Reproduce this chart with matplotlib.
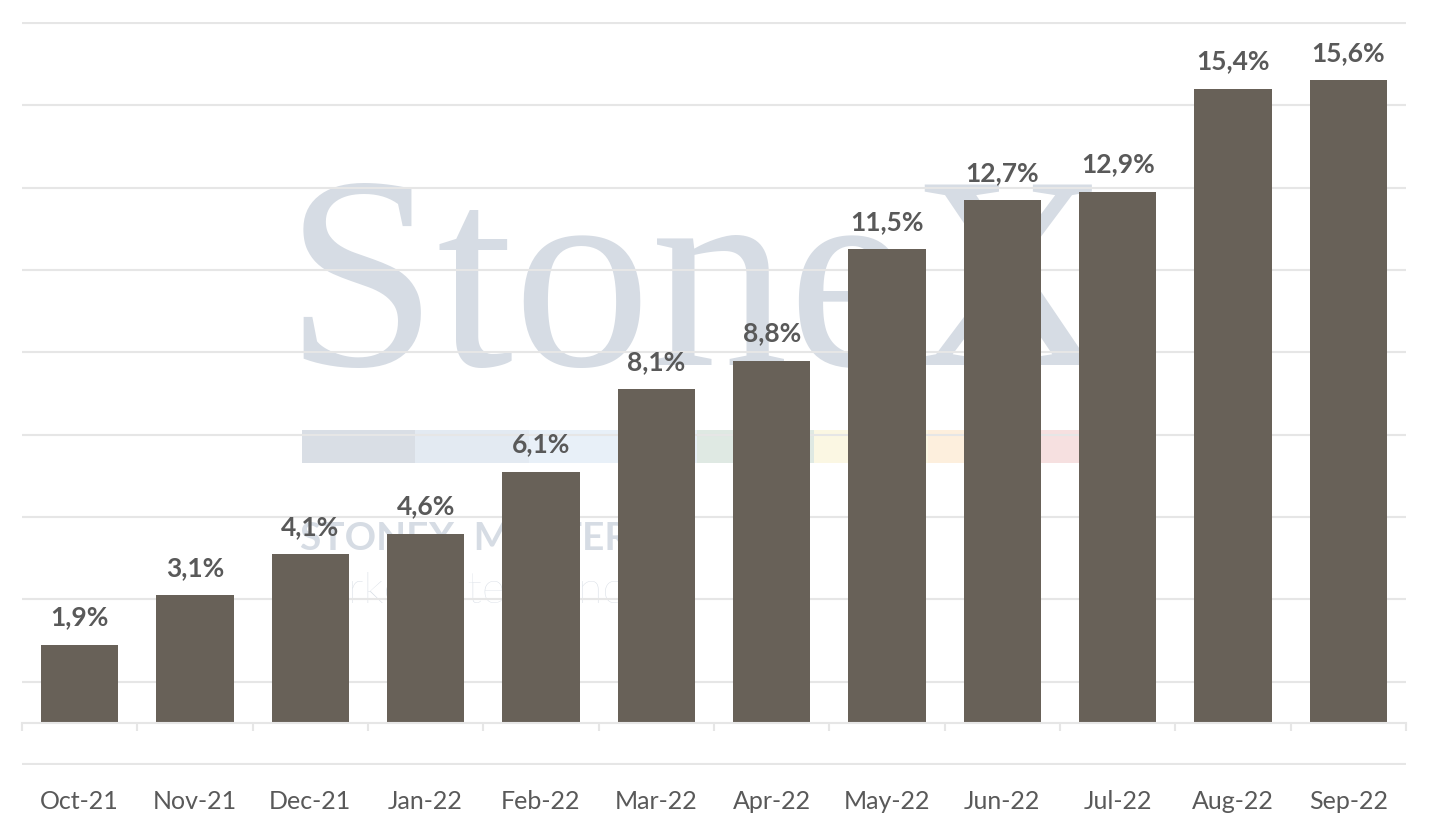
import matplotlib
matplotlib.use("Agg")
import matplotlib.pyplot as plt
from matplotlib.patches import Rectangle

# data
months = ["Oct-21", "Nov-21", "Dec-21", "Jan-22", "Feb-22", "Mar-22",
          "Apr-22", "May-22", "Jun-22", "Jul-22", "Aug-22", "Sep-22"]
values = [1.9, 3.1, 4.1, 4.6, 6.1, 8.1, 8.8, 11.5, 12.7, 12.9, 15.4, 15.6]
grid_levels = [-1, 1, 3, 5, 7, 9, 11, 13, 15, 17]

BAR_COLOR = "#686158"
TEXT_COLOR = "#595959"
GRID_COLOR = "#e6e6e6"
WM_COLOR = "#d6dce4"

plt.rcParams["font.family"] = ["Lato", "DejaVu Sans"]

fig = plt.figure(figsize=(14.29, 8.27), dpi=100)
ax = fig.add_axes([22 / 1429, 62 / 827, 1384 / 1429, 743 / 827])

# watermark (behind grid and bars)
ax.text(0.19, 0.538, "StoneX", transform=ax.transAxes, fontsize=198,
        family="Liberation Serif", color=WM_COLOR, zorder=0.2, va="baseline")
band = [(302, 415, "#d9dee5"), (415, 529, "#e3eaf2"), (529, 697, "#e8f0f8"),
        (697, 814, "#dfe9e3"), (814, 928, "#fbf7e3"), (928, 1039, "#fdefdd"),
        (1039, 1080, "#f6e0e0")]
for x0, x1, c in band:
    ax.add_patch(Rectangle(((x0 - 22) / 1384, (765 - 463) / 743),
                           (x1 - x0) / 1384, 33 / 743, transform=ax.transAxes,
                           color=c, zorder=0.2, lw=0))
ax.text(0.201, 0.289, "STONEX  MASTERS", transform=ax.transAxes,
        fontsize=28, weight="bold", color=WM_COLOR, zorder=0.2, va="baseline")
ax.text(0.195, 0.218, "market intelligence", transform=ax.transAxes,
        fontsize=32, weight="light", color=WM_COLOR,
        zorder=0.2, va="baseline")

x = list(range(len(months)))
bars = ax.bar(x, values, width=0.67, color=BAR_COLOR, zorder=3)
for b, v in zip(bars, values):
    ax.annotate(f"{v:.1f}%".replace(".", ","), (b.get_x() + b.get_width() / 2, v),
                xytext=(0, 11), textcoords="offset points", ha="center",
                va="bottom", fontsize=19, weight="bold", color=TEXT_COLOR,
                zorder=4)

ax.set_xlim(-0.5, 11.5)
ax.set_ylim(-1.02, 17.02)
ax.set_yticks(grid_levels)
ax.yaxis.grid(True, color=GRID_COLOR, lw=1.5)
ax.set_axisbelow(True)
ax.tick_params(axis="y", left=False, labelleft=False)

for s in ["top", "right", "left"]:
    ax.spines[s].set_visible(False)
ax.spines["bottom"].set_position(("data", 0))
ax.spines["bottom"].set_color(GRID_COLOR)
ax.spines["bottom"].set_linewidth(1.5)
ax.spines["bottom"].set_zorder(3.5)

ax.set_xticks(x)
ax.set_xticklabels(months)
ax.set_xticks([i - 0.5 for i in range(len(months) + 1)], minor=True)
ax.tick_params(axis="x", which="major", length=0, pad=48, labelsize=18,
               labelcolor=TEXT_COLOR)
ax.tick_params(axis="x", which="minor", length=6, width=1.5, color=GRID_COLOR,
               direction="out")

fig.savefig("out.png", dpi=100)
